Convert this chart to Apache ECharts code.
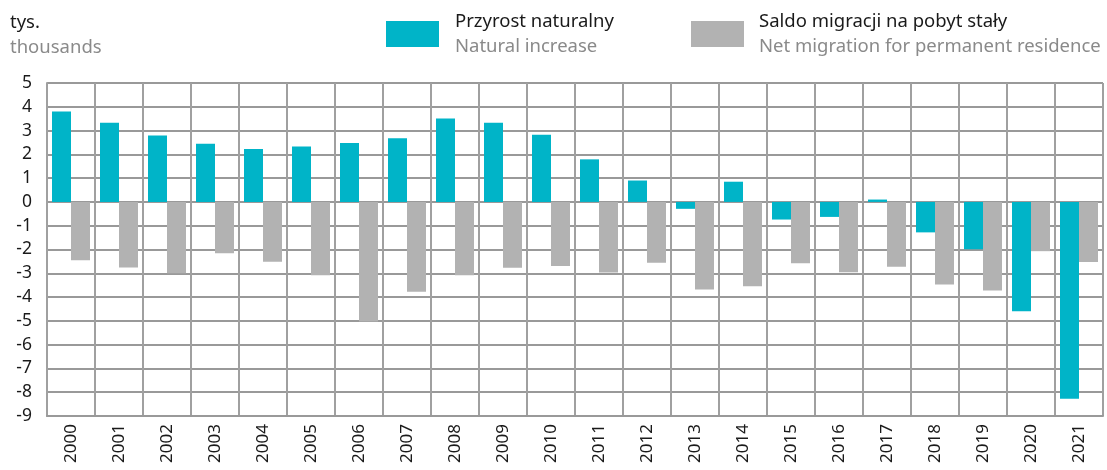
<!DOCTYPE html>
<html>
<head>
<meta charset="utf-8">
<script src="https://cdn.jsdelivr.net/npm/echarts@6/dist/echarts.min.js"></script>
<style>
  html, body { margin: 0; padding: 0; background: #fff; }
  #chart { width: 1107px; height: 470px; }
</style>
</head>
<body>
<div id="chart"></div>
<script>
// lata
var years = ['2000','2001','2002','2003','2004','2005','2006','2007','2008','2009','2010',
             '2011','2012','2013','2014','2015','2016','2017','2018','2019','2020','2021'];
// przyrost naturalny (tys.)
var naturalIncrease = [3.8, 3.33, 2.79, 2.45, 2.23, 2.33, 2.48, 2.68, 3.51, 3.33, 2.82,
                       1.79, 0.9, -0.29, 0.85, -0.74, -0.63, 0.1, -1.28, -1.99, -4.6, -8.28];
// saldo migracji na pobyt stały (tys.)
var netMigration = [-2.45, -2.76, -3.0, -2.16, -2.51, -3.08, -5.03, -3.78, -3.08, -2.77, -2.69,
                    -2.97, -2.56, -3.68, -3.54, -2.58, -2.96, -2.72, -3.47, -3.72, -2.07, -2.53];
var yTicks = { min: -9, max: 5, step: 1 };

var FONT = 'Noto Sans';
var chart = echarts.init(document.getElementById('chart'));

function legendFmt(name) {
  var parts = name.split('|');
  return '{pl|' + parts[0] + '}\n{en|' + parts[1] + '}';
}
var legendRich = {
  pl: { fontFamily: FONT, fontSize: 18.5, color: '#1a1a1a', lineHeight: 25 },
  en: { fontFamily: FONT, fontSize: 18.5, color: '#8a8a8a', lineHeight: 25 }
};
var nameA = 'Przyrost naturalny|Natural increase';
var nameB = 'Saldo migracji na pobyt stały|Net migration for permanent residence';

var option = {
  animation: false,
  graphic: [
    { type: 'text', left: 10, top: 13,
      style: { text: 'tys.', fontFamily: FONT, fontSize: 18.5, fill: '#1a1a1a' } },
    { type: 'text', left: 10, top: 38,
      style: { text: 'thousands', fontFamily: FONT, fontSize: 18.5, fill: '#8a8a8a' } }
  ],
  legend: [
    { left: 386, top: 12, padding: 0, itemWidth: 53, itemHeight: 26, icon: 'rect', itemGap: 0,
      data: [nameA], formatter: legendFmt, textStyle: { rich: legendRich, padding: [0, 0, 0, 11] } },
    { left: 691, top: 12, padding: 0, itemWidth: 53, itemHeight: 26, icon: 'rect', itemGap: 0,
      data: [nameB], formatter: legendFmt, textStyle: { rich: legendRich, padding: [0, 0, 0, 10] } }
  ],
  grid: { left: 47, right: 4, top: 83, bottom: 54, containLabel: false },
  xAxis: {
    type: 'category',
    data: years,
    position: 'bottom',
    axisLine: { onZero: false, lineStyle: { color: '#999', width: 2 } },
    axisTick: { show: false },
    axisLabel: { rotate: 90, interval: 0, margin: 8, fontFamily: FONT, fontSize: 17, color: '#1a1a1a' },
    splitLine: { show: true, interval: 0, lineStyle: { color: '#a0a0a0', width: 2 } }
  },
  yAxis: {
    type: 'value',
    min: yTicks.min, max: yTicks.max, interval: yTicks.step,
    axisLine: { show: true, lineStyle: { color: '#a0a0a0', width: 2 } },
    axisTick: { show: false },
    axisLabel: { margin: 15, fontFamily: FONT, fontSize: 17.5, color: '#1a1a1a' },
    splitLine: { lineStyle: { color: '#999', width: 2 } }
  },
  series: [
    { name: nameA, type: 'bar', data: naturalIncrease, barWidth: 19, barGap: '0%',
      itemStyle: { color: '#00b4c8' } },
    { name: nameB, type: 'bar', data: netMigration, barWidth: 19, barGap: '0%',
      itemStyle: { color: '#b2b2b2' } }
  ]
};
chart.setOption(option);
</script>
</body>
</html>
